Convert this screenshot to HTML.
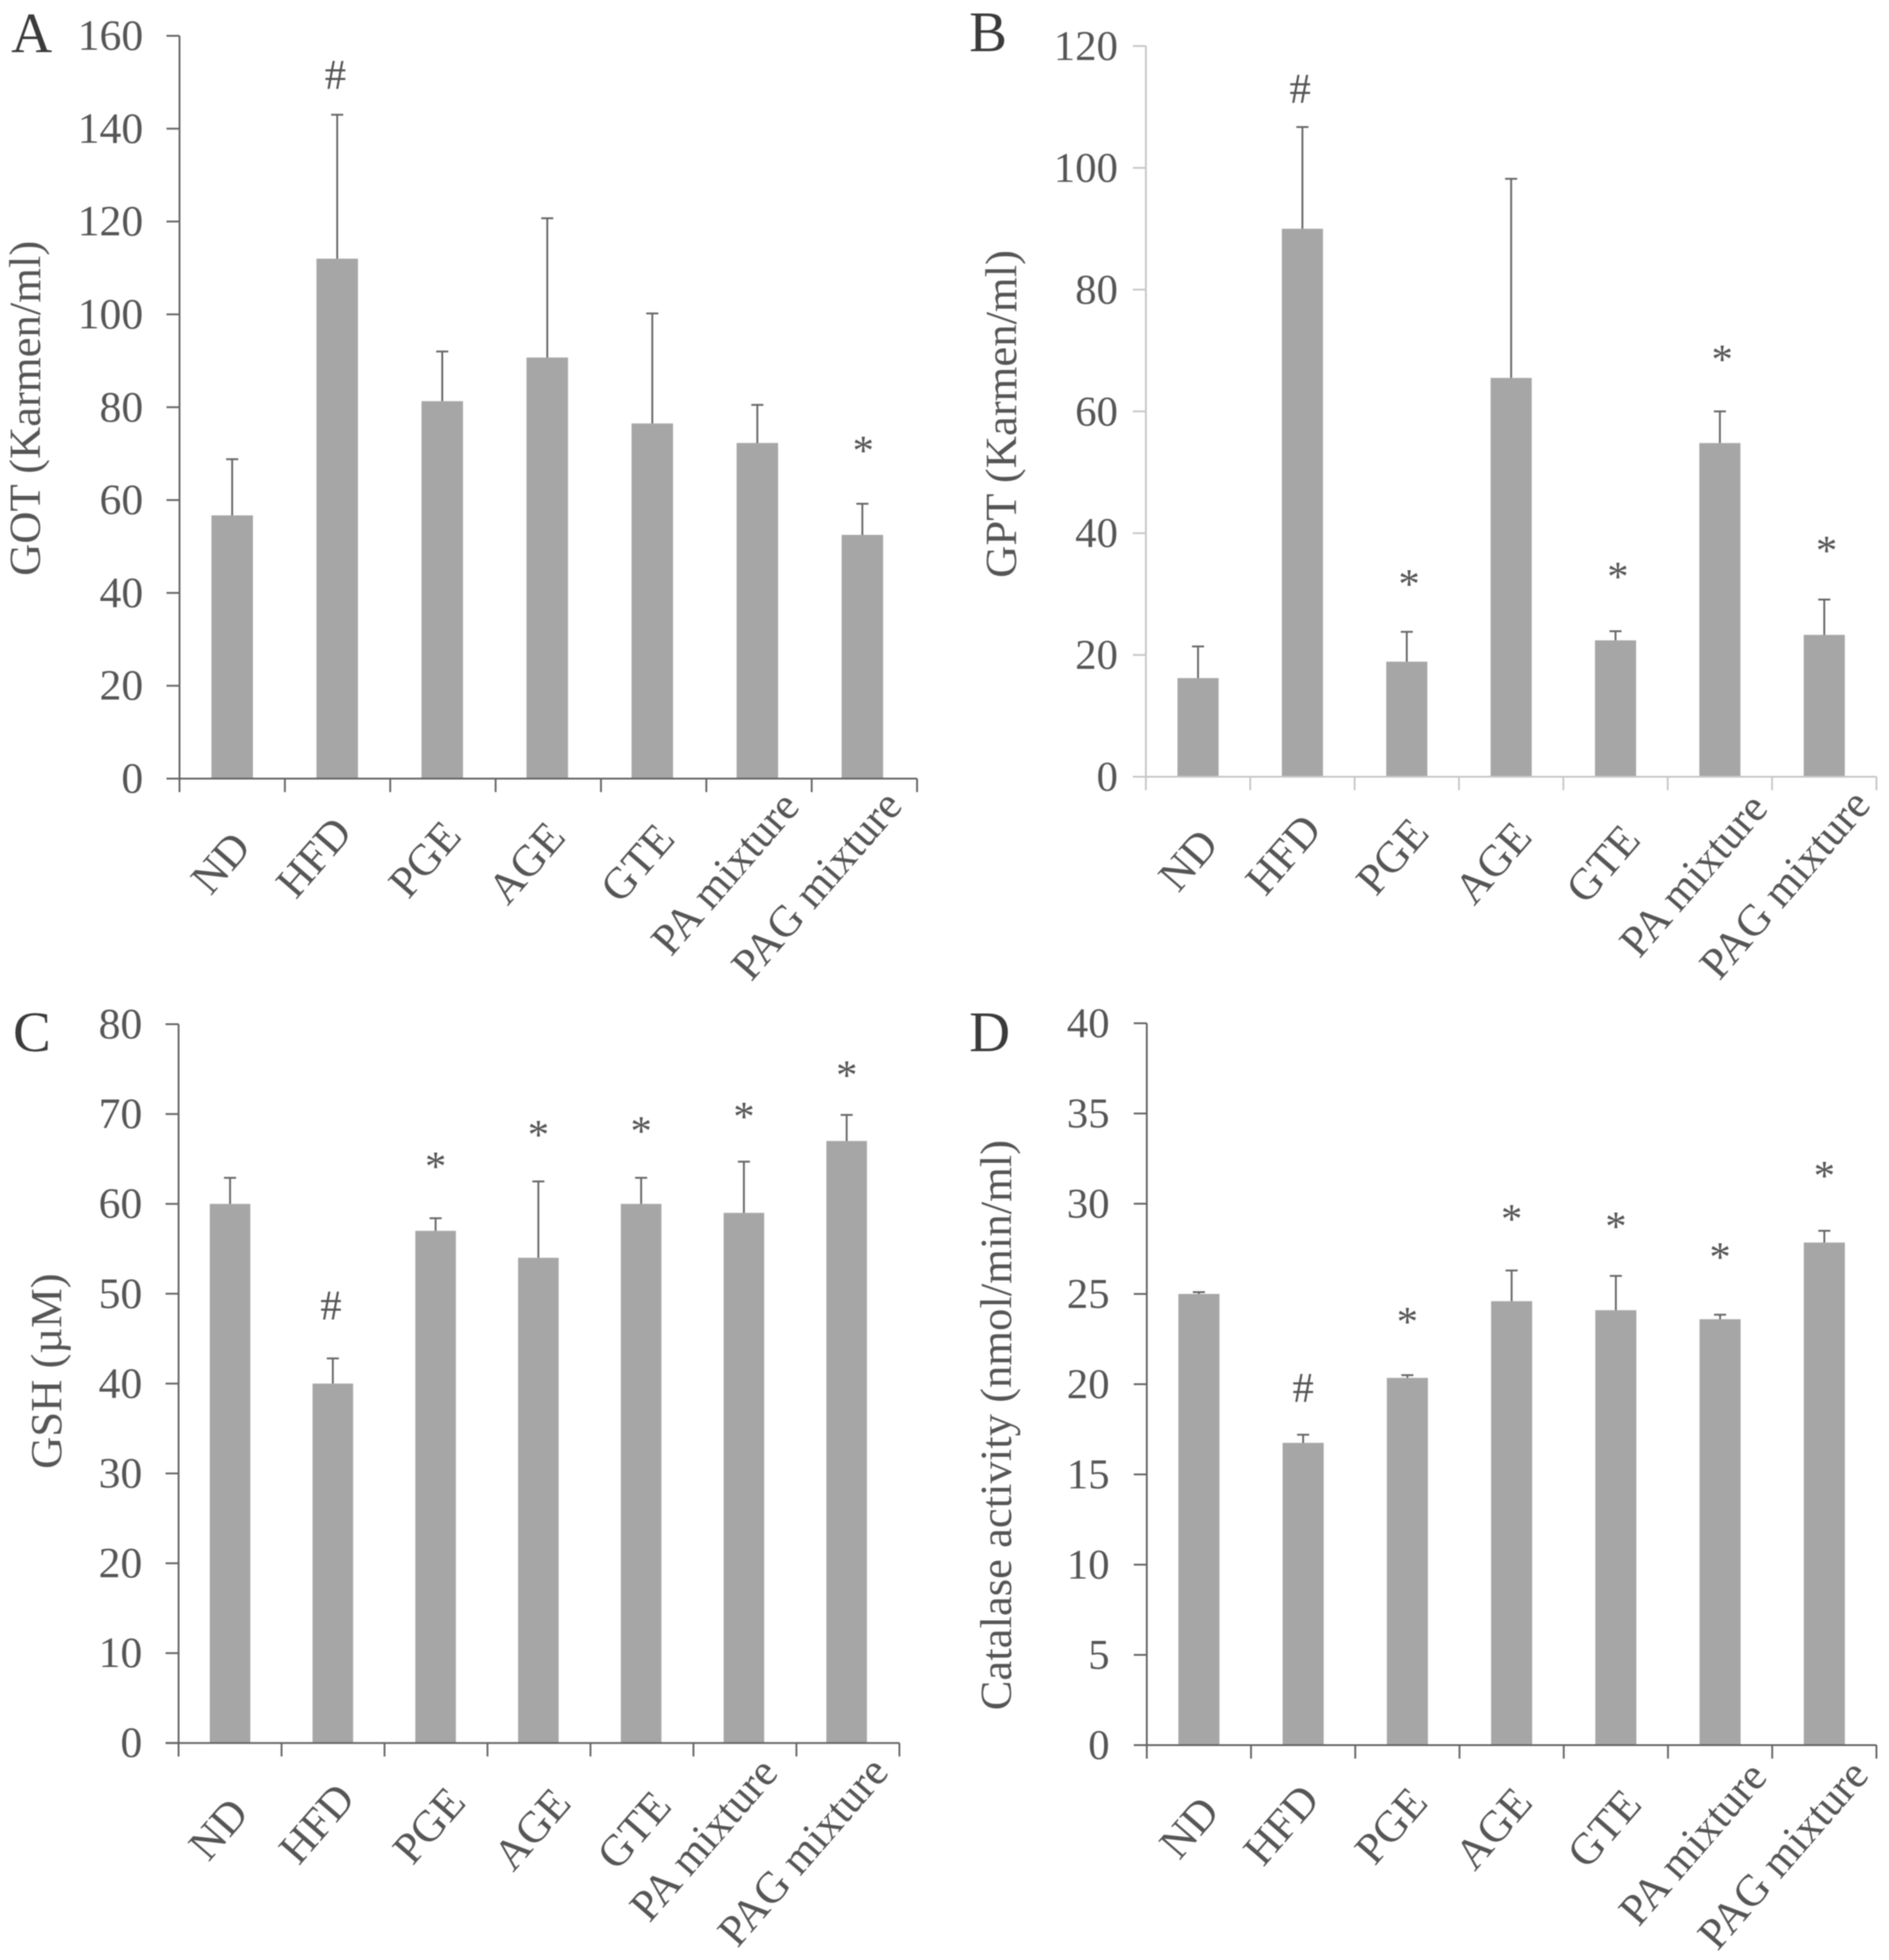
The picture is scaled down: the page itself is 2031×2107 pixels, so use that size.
<!DOCTYPE html>
<html>
<head>
<meta charset="utf-8">
<title>Four-panel bar charts: GOT, GPT, GSH, catalase activity</title>
<style>
  html, body { margin: 0; padding: 0; background: #fff; }
  #figure { display: block; filter: blur(0.6px); }
  text { font-family: "Liberation Serif", serif; fill: #555; }
</style>
</head>
<body>
<svg id="figure" xmlns="http://www.w3.org/2000/svg" width="2031" height="2107" viewBox="0 0 2031 2107"></svg>
<script>
const categories = ['ND', 'HFD', 'PGE', 'AGE', 'GTE', 'PA mixture', 'PAG mixture'];

const gotMeans = [56.7, 112, 81.3, 90.7, 76.5, 72.3, 52.5];
const gotErrorTops = [68.8, 143, 92, 120.7, 100.2, 80.5, 59.2];
const gotTicks = [0, 20, 40, 60, 80, 100, 120, 140, 160];
const gotMarks = ['', '#', '', '', '', '', '*'];
const gotMarkLevels = [0, 151.6, 0, 0, 0, 0, 71.6];

const gptMeans = [16.2, 90, 18.9, 65.5, 22.4, 54.8, 23.3];
const gptErrorTops = [21.4, 106.7, 23.8, 98.2, 23.9, 60, 29.1];
const gptTicks = [0, 20, 40, 60, 80, 100, 120];
const gptMarks = ['', '#', '*', '', '*', '*', '*'];
const gptMarkLevels = [0, 113, 32.4, 0, 33.6, 69.3, 37.9];

const gshMeans = [60, 40, 57, 54, 60, 59, 67];
const gshErrorTops = [62.9, 42.8, 58.4, 62.5, 62.9, 64.7, 69.9];
const gshTicks = [0, 10, 20, 30, 40, 50, 60, 70, 80];
const gshMarks = ['', '#', '*', '*', '*', '*', '*'];
const gshMarkLevels = [0, 48.7, 64.7, 68.2, 68.6, 70.2, 74.8];

const catMeans = [25, 16.75, 20.35, 24.6, 24.1, 23.6, 27.85];
const catErrorTops = [25.1, 17.2, 20.5, 26.3, 26, 23.85, 28.5];
const catTicks = [0, 5, 10, 15, 20, 25, 30, 35, 40];
const catMarks = ['', '#', '*', '*', '*', '*', '*'];
const catMarkLevels = [0, 19.8, 23.7, 29.4, 29, 27.3, 31.8];

const NS = 'http://www.w3.org/2000/svg';
const figure = document.getElementById('figure');
const BAR_COLOR = '#a6a6a6';
const ERROR_COLOR = '#666';
const LABEL_DX = [-15, -28, -22, -20, -16, -36, -52];
const LABEL_DY = [93, 89, 90, 94, 94, 105, 116];

function make(parent, tag, attrs, content) {
  const node = document.createElementNS(NS, tag);
  for (const key in attrs) node.setAttribute(key, attrs[key]);
  if (content !== undefined) node.textContent = content;
  parent.appendChild(node);
  return node;
}

function drawPanel(cfg) {
  const maxTick = cfg.ticks[cfg.ticks.length - 1];
  const yScale = v => cfg.y0 - (v / maxTick) * (cfg.y0 - cfg.y1);
  const step = (cfg.x1 - cfg.x0) / categories.length;
  const xCenter = i => cfg.x0 + step * 0.5 + step * cfg.barPitch * i;
  const labelCenter = i => cfg.x0 + step * (i + 0.5);
  const barWidth = step * 0.394;

  const group = make(figure, 'g', {});
  
  

  const letter = make(group, 'text', { x: cfg.letterX, y: cfg.letterY, 'font-size': 61, style: 'fill:#3a3a3a' }, cfg.letter);
  
  

  const title = make(group, 'text', {
    x: 0, y: 0, 'font-size': 48, 'text-anchor': 'middle',
    transform: 'translate(' + cfg.titleX + ',' + cfg.titleY + ') rotate(-90)'
  }, cfg.title);
  
  

  categories.forEach((name, i) => {
    const top = yScale(cfg.means[i]);
    const bar = make(group, 'rect', {
      x: xCenter(i) - barWidth / 2, y: top, width: barWidth, height: cfg.y0 - top, fill: BAR_COLOR
    });
    
    

    const errTop = yScale(cfg.errorTops[i]);
    const stem = make(group, 'line', {
      x1: xCenter(i), x2: xCenter(i), y1: top, y2: errTop, stroke: ERROR_COLOR, 'stroke-width': 2
    });
    
    
    const cap = make(group, 'line', {
      x1: xCenter(i) - 6.5, x2: xCenter(i) + 6.5, y1: errTop, y2: errTop, stroke: ERROR_COLOR, 'stroke-width': 2
    });
    
    

    if (cfg.marks[i]) {
      const isHash = cfg.marks[i] === '#';
      const mark = make(group, 'text', {
        x: xCenter(i) + (isHash ? cfg.hashDx : cfg.starDx), y: yScale(cfg.markLevels[i]) + (isHash ? 15 : 20),
        'font-size': 46, 'text-anchor': 'middle'
      }, cfg.marks[i]);
      
      
    }

    const labelX = labelCenter(i) + LABEL_DX[i] + cfg.labelAdjustX[i];
    const labelY = cfg.y0 + LABEL_DY[i] + cfg.labelAdjustY[i];
    const label = make(group, 'text', {
      x: 0, y: 0, 'font-size': 47.5, 'text-anchor': 'middle', 'dominant-baseline': 'central',
      transform: 'translate(' + labelX + ',' + labelY + ') rotate(-49)'
    }, name);
    
    
  });

  const yAxis = make(group, 'line', {
    x1: cfg.x0, x2: cfg.x0, y1: cfg.y1, y2: cfg.y0 + 14.5, stroke: cfg.axisColor, 'stroke-width': 2
  });
  
  

  const xAxis = make(group, 'line', {
    x1: cfg.x0 - 14, x2: cfg.x1, y1: cfg.y0, y2: cfg.y0, stroke: cfg.axisColor, 'stroke-width': 2
  });
  
  

  for (let i = 1; i <= categories.length; i++) {
    const tickX = cfg.x0 + step * i;
    const xTick = make(group, 'line', {
      x1: tickX, x2: tickX, y1: cfg.y0, y2: cfg.y0 + 14.5, stroke: cfg.axisColor, 'stroke-width': 2
    });
    
    
  }

  cfg.ticks.forEach(value => {
    const tickY = yScale(value);
    const yTick = make(group, 'line', {
      x1: cfg.x0 - 14, x2: cfg.x0, y1: tickY, y2: tickY, stroke: cfg.axisColor, 'stroke-width': 2
    });
    
    
    const tickLabel = make(group, 'text', {
      x: cfg.x0 - cfg.labelGap, y: tickY + 15, 'font-size': cfg.tickFont, 'text-anchor': 'end'
    }, String(value));
    
    
  });
}

drawPanel({
  id: 'a', letter: 'A', title: 'GOT (Karmen/ml)',
  means: gotMeans, errorTops: gotErrorTops, ticks: gotTicks, marks: gotMarks, markLevels: gotMarkLevels,
  x0: 193, x1: 986, y0: 837, y1: 38.5, labelGap: 39, axisColor: '#666', tickFont: 47, barPitch: 0.9968,
  hashDx: -2, starDx: 1,
  labelAdjustX: [3, 3, 3, -3, -1, 0, 1], labelAdjustY: [-2, -4, -3, -3, -3, -3, -1],
  letterX: 12, letterY: 56, titleX: 43, titleY: 439
});
drawPanel({
  id: 'b', letter: 'B', title: 'GPT (Karmen/ml)',
  means: gptMeans, errorTops: gptErrorTops, ticks: gptTicks, marks: gptMarks, markLevels: gptMarkLevels,
  x0: 1232, x1: 2017.5, y0: 835, y1: 49.5, labelGap: 30, axisColor: '#c8c8c8', tickFont: 46, barPitch: 1,
  hashDx: -2.5, starDx: 2.5,
  labelAdjustX: [5, 8, 7, 1, 3, 8, 10], labelAdjustY: [-3, -5, -4, -1, 0, 1, 0],
  letterX: 1042, letterY: 55, titleX: 1092.5, titleY: 445
});
drawPanel({
  id: 'c', letter: 'C', title: 'GSH (µM)',
  means: gshMeans, errorTops: gshErrorTops, ticks: gshTicks, marks: gshMarks, markLevels: gshMarkLevels,
  x0: 192, x1: 967, y0: 1873.7, y1: 1101, labelGap: 39, axisColor: '#666', tickFont: 47, barPitch: 0.998,
  hashDx: -2, starDx: 0,
  labelAdjustX: [3, 11, 15, 13, 8, -8, 4], labelAdjustY: [0, -2, -1, -1, 0, -1, 1],
  letterX: 14, letterY: 1130, titleX: 66, titleY: 1474
});
drawPanel({
  id: 'd', letter: 'D', title: 'Catalase activity (nmol/min/ml)',
  means: catMeans, errorTops: catErrorTops, ticks: catTicks, marks: catMarks, markLevels: catMarkLevels,
  x0: 1233, x1: 2017.5, y0: 1876, y1: 1100, labelGap: 40, axisColor: '#666', tickFont: 46, barPitch: 1,
  hashDx: 0, starDx: 0,
  labelAdjustX: [5, 5, 5, 1, 4, 7, 8], labelAdjustY: [-4, -3, -3, -4, -4, 1, 2],
  letterX: 1042, letterY: 1130, titleX: 1087, titleY: 1532
});
</script>
</body>
</html>
